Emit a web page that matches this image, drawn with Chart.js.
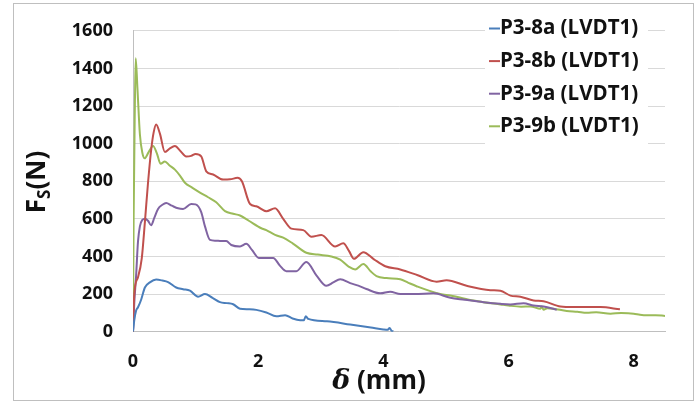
<!DOCTYPE html>
<html>
<head>
<meta charset="utf-8">
<script src="https://cdn.jsdelivr.net/npm/chart.js@4/dist/chart.umd.min.js"></script>
<style>
  html, body { margin: 0; padding: 0; background: #fff; }
  #wrap { width: 699px; height: 403px; }
</style>
</head>
<body>
<div id="wrap"><canvas id="chart" width="699" height="403"></canvas></div>
<script>
// ---------- data ----------
const xTicks = [0, 2, 4, 6, 8];
const yTicks = [0, 200, 400, 600, 800, 1000, 1200, 1400, 1600];

const p38aX = [0, 0.02, 0.05, 0.08, 0.13, 0.19, 0.27, 0.37, 0.47, 0.56, 0.69, 0.8, 0.91, 1.04, 1.15, 1.27, 1.39, 1.5, 1.6, 1.71, 1.85, 1.97, 2.13, 2.29, 2.43, 2.55, 2.67, 2.73, 2.76, 2.8, 3.1, 3.47, 3.8, 4.0, 4.07, 4.1, 4.13, 4.16];
const p38aY = [0, 60, 113, 130, 170, 235, 262, 277, 272, 264, 235, 226, 218, 186, 200, 180, 157, 152, 146, 122, 119, 116, 102, 82, 88, 70, 61, 61, 82, 68, 55, 38, 22, 12, 10, 20, 5, 2];

const p38bX = [0, 0.02, 0.08, 0.14, 0.19, 0.24, 0.29, 0.33, 0.37, 0.43, 0.51, 0.59, 0.67, 0.76, 0.85, 0.93, 1.0, 1.09, 1.17, 1.28, 1.44, 1.55, 1.67, 1.74, 1.87, 1.97, 2.13, 2.27, 2.4, 2.53, 2.72, 2.85, 3.01, 3.23, 3.36, 3.45, 3.53, 3.68, 3.85, 4.03, 4.27, 4.55, 4.85, 5.01, 5.33, 5.71, 5.87, 6.03, 6.19, 6.4, 6.56, 6.83, 7.04, 7.47, 7.78];
const p38bY = [0, 200, 290, 390, 583, 792, 966, 1060, 1102, 1053, 955, 975, 987, 960, 932, 935, 945, 932, 853, 836, 809, 810, 818, 800, 679, 667, 641, 656, 600, 548, 540, 505, 514, 453, 470, 430, 388, 423, 385, 348, 331, 300, 266, 274, 244, 221, 218, 192, 186, 166, 162, 134, 131, 131, 119];

const p39aX = [0, 0.02, 0.05, 0.08, 0.11, 0.15, 0.19, 0.24, 0.29, 0.34, 0.4, 0.47, 0.53, 0.62, 0.72, 0.8, 0.93, 1.0, 1.09, 1.15, 1.23, 1.32, 1.41, 1.49, 1.57, 1.71, 1.81, 1.9, 2.01, 2.13, 2.24, 2.35, 2.45, 2.61, 2.77, 2.93, 3.09, 3.2, 3.31, 3.47, 3.6, 3.73, 3.95, 4.11, 4.27, 4.5, 4.8, 5.07, 5.3, 5.6, 5.87, 6.03, 6.24, 6.4, 6.56, 6.77];
const p39aY = [0, 150, 300, 480, 560, 595, 601, 590, 566, 605, 653, 675, 684, 670, 656, 653, 679, 677, 636, 560, 488, 484, 482, 482, 461, 453, 467, 435, 392, 392, 392, 350, 322, 322, 371, 300, 244, 262, 279, 258, 245, 227, 204, 213, 200, 200, 204, 180, 170, 157, 148, 145, 151, 139, 134, 117];

const p39bX = [0, 0.01, 0.03, 0.043, 0.07, 0.11, 0.15, 0.187, 0.25, 0.32, 0.38, 0.44, 0.51, 0.58, 0.67, 0.75, 0.83, 0.95, 1.07, 1.2, 1.33, 1.47, 1.6, 1.71, 1.85, 2.05, 2.13, 2.27, 2.4, 2.55, 2.77, 2.95, 3.17, 3.31, 3.45, 3.55, 3.68, 3.8, 3.89, 4.05, 4.27, 4.4, 4.53, 4.91, 5.07, 5.44, 5.6, 5.87, 6.0, 6.2, 6.35, 6.51, 6.53, 6.56, 6.62, 6.72, 6.93, 7.1, 7.25, 7.4, 7.63, 7.8, 8.0, 8.1, 8.21, 8.35, 8.5];
const p39bY = [0, 600, 1200, 1454, 1300, 1050, 950, 922, 955, 987, 950, 893, 905, 885, 862, 830, 792, 765, 740, 715, 688, 641, 627, 618, 590, 550, 540, 515, 500, 470, 420, 410, 400, 383, 345, 331, 360, 320, 296, 285, 279, 260, 242, 200, 192, 166, 157, 145, 139, 133, 134, 122, 134, 117, 125, 122, 110, 106, 101, 104, 96, 99, 96, 90, 87, 88, 84];

const seriesNames = ["P3-8a (LVDT1)", "P3-8b (LVDT1)", "P3-9a (LVDT1)", "P3-9b (LVDT1)"];
const seriesColors = ["#4A7EBB", "#C0504D", "#8064A2", "#9BBB59"];

const toPoints = (xs, ys) => xs.map((x, i) => ({ x: x, y: ys[i] }));

const FONT = "'Open Sans', 'DejaVu Sans', sans-serif";

// frame + white background
const framePlugin = {
  id: "frame",
  beforeDraw(chart) {
    const c = chart.ctx;
    c.save();
    c.fillStyle = "#fff";
    c.fillRect(0, 0, chart.width, chart.height);
    c.strokeStyle = "#BFBFBF";
    c.lineWidth = 1;
    c.strokeRect(13.5, 3.5, 680, 397);
    c.restore();
  }
};

// legend inside the plot + axis titles
const decorPlugin = {
  id: "decor",
  afterDraw(chart) {
    const c = chart.ctx;
    c.save();
    // legend box
    c.fillStyle = "#fff";
    c.fillRect(485, 12, 163, 132);
    c.font = "bold 20.5px " + FONT;
    c.textBaseline = "middle";
    c.textAlign = "left";
    seriesNames.forEach((name, i) => {
      const y = 28.5 + i * 32.6;
      c.strokeStyle = seriesColors[i];
      c.lineWidth = 2;
      c.beginPath();
      c.moveTo(489, y);
      c.lineTo(500, y);
      c.stroke();
      c.fillStyle = "#111";
      c.fillText(name, 500, y);
    });

    // x title: δ (mm)
    c.fillStyle = "#111";
    c.textBaseline = "middle";
    const big = "bold 26px " + FONT;
    const ital = "italic bold 27px 'DejaVu Serif', serif";
    c.font = ital;
    const wD = c.measureText("δ").width;
    c.font = big;
    const wR = c.measureText(" (mm)").width;
    let x0 = 379 - (wD + wR) / 2;
    c.font = ital;
    c.fillText("δ", x0, 382);
    c.font = big;
    c.fillText(" (mm)", x0 + wD, 382);

    // y title: F_S(N)
    c.translate(38, 182);
    c.rotate(-Math.PI / 2);
    const sub = "bold 17px " + FONT;
    c.font = big;
    const wF = c.measureText("F").width;
    const wN = c.measureText("(N)").width;
    c.font = sub;
    const wS = c.measureText("S").width;
    const total = wF + wS + wN;
    let px = -total / 2;
    c.font = big;
    c.fillText("F", px, 0);
    px += wF;
    c.font = sub;
    c.fillText("S", px, 7);
    px += wS;
    c.font = big;
    c.fillText("(N)", px, 0);
    c.restore();
  }
};

const ctx = document.getElementById("chart").getContext("2d");
const chart = new Chart(ctx, {
  type: "line",
  data: {
    datasets: [
      { label: seriesNames[0], data: toPoints(p38aX, p38aY), borderColor: seriesColors[0] },
      { label: seriesNames[1], data: toPoints(p38bX, p38bY), borderColor: seriesColors[1] },
      { label: seriesNames[2], data: toPoints(p39aX, p39aY), borderColor: seriesColors[2] },
      { label: seriesNames[3], data: toPoints(p39bX, p39bY), borderColor: seriesColors[3] }
    ]
  },
  options: {
    responsive: false,
    devicePixelRatio: 1,
    animation: false,
    layout: { padding: { left: 0, top: 25, right: 34, bottom: 0 } },
    elements: {
      point: { radius: 0 },
      line: { borderWidth: 2, cubicInterpolationMode: "monotone", fill: false }
    },
    plugins: {
      legend: { display: false },
      tooltip: { enabled: false }
    },
    scales: {
      x: {
        type: "linear",
        min: 0,
        max: 8.5,
        grid: { display: false, drawTicks: false },
        border: { display: true, color: "#BFBFBF" },
        afterBuildTicks: (s) => { s.ticks = xTicks.map((v) => ({ value: v })); },
        afterFit: (s) => { s.height = 71.3; },
        ticks: {
          padding: 19,
          color: "#111",
          maxRotation: 0,
          callback: (v) => String(v),
          font: { family: FONT, size: 18, weight: "bold" }
        }
      },
      y: {
        type: "linear",
        min: 0,
        max: 1600,
        grid: { color: "#D9D9D9", drawTicks: false },
        border: { display: true, color: "#BFBFBF" },
        afterBuildTicks: (s) => { s.ticks = yTicks.map((v) => ({ value: v })); },
        afterFit: (s) => { s.width = 133; },
        ticks: {
          padding: 20,
          color: "#111",
          callback: (v) => String(v),
          font: { family: FONT, size: 18, weight: "bold" }
        }
      }
    }
  },
  plugins: [framePlugin, decorPlugin]
});
</script>
</body>
</html>
